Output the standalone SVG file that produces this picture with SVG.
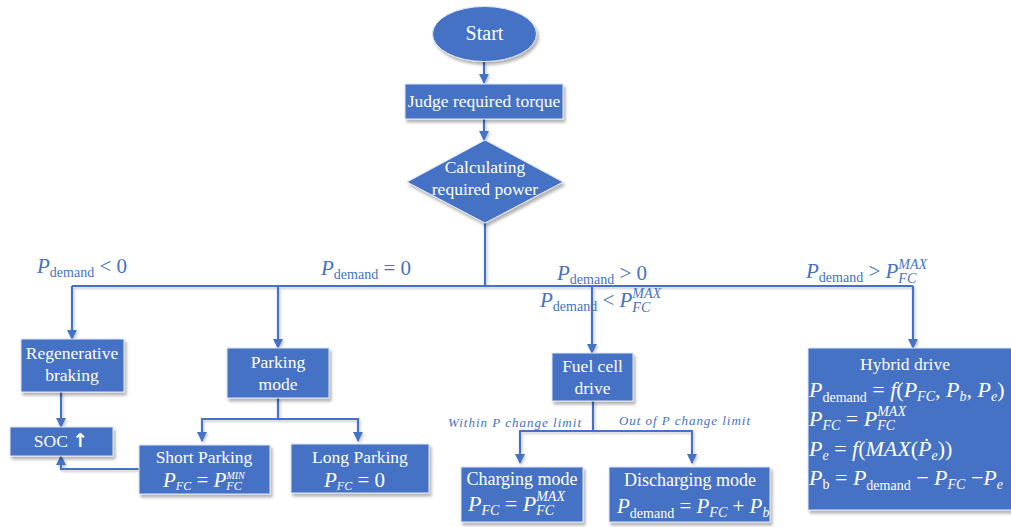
<svg xmlns="http://www.w3.org/2000/svg" width="1011" height="527" viewBox="0 0 1011 527">
<style>
.box{fill:#4472C4;stroke:#dfe7f5;stroke-width:1;filter:url(#sh)}
.t{font-family:"Liberation Serif","Times New Roman",serif;font-size:17.5px;fill:#fff;text-anchor:middle}
.m{font-family:"Liberation Serif","Times New Roman",serif;font-size:22px;fill:#fff}
.lb{font-family:"Liberation Serif","Times New Roman",serif;font-size:21px;fill:#4472C4}
.i{font-style:italic}
.s{font-size:14px}
.ss{font-size:12px}
.sx{font-size:10px}
.cn{fill:none;stroke:#4472C4;stroke-width:2.2}
.ca{fill:none;stroke:#4472C4;stroke-width:2.2;marker-end:url(#ah)}
.cl{font-family:"Liberation Serif","Times New Roman",serif;font-style:italic;font-size:13px;fill:#4472C4}
</style>
<defs>
<filter id="sh" x="-10%" y="-10%" width="130%" height="140%"><feDropShadow dx="2" dy="3" stdDeviation="1.5" flood-color="#000" flood-opacity="0.3"/></filter>
<filter id="lsh" x="-5%" y="-5%" width="110%" height="120%"><feDropShadow dx="1.5" dy="2" stdDeviation="1" flood-color="#000" flood-opacity="0.2"/></filter>
<marker id="ah" viewBox="0 0 10 10" refX="9" refY="5" markerUnits="userSpaceOnUse" markerWidth="10" markerHeight="10" orient="auto"><path d="M0,0 L10,5 L0,10 z" fill="#4472C4"/></marker>
</defs>

<g id="connectors" filter="url(#lsh)">
<line class="ca" x1="484" y1="62" x2="484" y2="83"/>
<line class="ca" x1="484" y1="119" x2="484" y2="140"/>
<polyline class="cn" points="485,223 485,286"/>
<polyline class="cn" points="72,286 913,286"/>
<line class="ca" x1="72" y1="286" x2="72" y2="339"/>
<line class="ca" x1="278" y1="286" x2="278" y2="348"/>
<line class="ca" x1="592" y1="286" x2="592" y2="353"/>
<line class="ca" x1="913" y1="286" x2="913" y2="348"/>
<line class="ca" x1="61" y1="392" x2="61" y2="427"/>
<polyline class="cn" points="278,398 278,419"/>
<polyline class="ca" points="278,419 202,419 202,441"/>
<polyline class="ca" points="278,419 358,419 358,441"/>
<polyline class="ca" points="139,469 61,469 61,456"/>
<polyline class="cn" points="593,401 593,431"/>
<polyline class="ca" points="593,431 520,431 520,463"/>
<polyline class="ca" points="593,431 692,431 692,463"/>
</g>

<g id="conditions">
<text class="lb" x="37" y="273"><tspan class="i">P</tspan><tspan class="s" dy="4">demand</tspan><tspan dy="-4"> &lt;  0</tspan></text>
<text class="lb" x="321" y="275"><tspan class="i">P</tspan><tspan class="s" dy="4">demand</tspan><tspan dy="-4"> =  0</tspan></text>
<text class="lb" x="557" y="280"><tspan class="i">P</tspan><tspan class="s" dy="4">demand</tspan><tspan dy="-4"> &gt; 0</tspan></text>
<text class="lb" x="540" y="307"><tspan class="i">P</tspan><tspan class="s" dy="4">demand</tspan><tspan dy="-4"> &lt; </tspan><tspan class="i">P</tspan><tspan class="i s" dy="5">FC</tspan><tspan class="i s" dx="-17.9" dy="-14">MAX</tspan></text>
<text class="lb" x="806" y="278"><tspan class="i">P</tspan><tspan class="s" dy="4">demand</tspan><tspan dy="-4"> &gt; </tspan><tspan class="i">P</tspan><tspan class="i s" dy="5">FC</tspan><tspan class="i s" dx="-17.9" dy="-14">MAX</tspan></text>
<text class="cl" x="448" y="427" textLength="133" lengthAdjust="spacing">Within P change limit</text>
<text class="cl" x="619" y="425" textLength="131" lengthAdjust="spacing">Out of P change limit</text>
</g>

<g id="start">
<ellipse cx="484.5" cy="34" rx="52" ry="27.5" fill="#4472C4" stroke="#dfe7f5" stroke-width="1" filter="url(#sh)"/>
<text class="t" x="484.5" y="40" style="font-size:20px">Start</text>
</g>

<g id="judge">
<rect class="box" x="405" y="84" width="158" height="35"/>
<text class="t" x="484" y="107">Judge required torque</text>
</g>

<g id="calc">
<polygon class="box" points="485,140 563,182 485,223 407,182"/>
<text class="t" x="485" y="173">Calculating</text>
<text class="t" x="485" y="195">required power</text>
</g>

<g id="regen">
<rect class="box" x="21" y="339" width="103" height="53"/>
<text class="t" x="72" y="359">Regenerative</text>
<text class="t" x="72" y="381">braking</text>
</g>

<g id="soc">
<rect class="box" x="10" y="427" width="103" height="29"/>
<text class="t" x="61" y="447">SOC <tspan font-weight="bold" font-family="DejaVu Sans" font-size="19">↑</tspan></text>
</g>

<g id="parking">
<rect class="box" x="227" y="348" width="102" height="50"/>
<text class="t" x="278" y="368">Parking</text>
<text class="t" x="278" y="390">mode</text>
</g>

<g id="short">
<rect class="box" x="139" y="445" width="131" height="49"/>
<text class="t" x="204" y="463">Short Parking</text>
<text class="m" x="163" y="487" style="font-size:21px"><tspan class="i">P</tspan><tspan class="i ss" dy="3">FC</tspan><tspan dy="-3"> = </tspan><tspan class="i">P</tspan><tspan class="i ss" dy="3">FC</tspan><tspan class="i sx" dx="-15.3" dy="-11">MIN</tspan></text>
</g>

<g id="long">
<rect class="box" x="291" y="444" width="138" height="49"/>
<text class="t" x="360" y="463">Long Parking</text>
<text class="m" x="324" y="487" style="font-size:21px"><tspan class="i">P</tspan><tspan class="i ss" dy="3">FC</tspan><tspan dy="-3"> =  0</tspan></text>
</g>

<g id="fuelcell">
<rect class="box" x="552" y="353" width="81" height="48"/>
<text class="t" x="592.5" y="372">Fuel cell</text>
<text class="t" x="592.5" y="394">drive</text>
</g>

<g id="charging">
<rect class="box" x="461" y="467" width="122" height="55"/>
<text class="t" x="522" y="485" style="font-size:18px">Charging mode</text>
<text class="m" x="468" y="511"><tspan class="i">P</tspan><tspan class="i s" dy="4">FC</tspan><tspan dy="-4"> = </tspan><tspan class="i">P</tspan><tspan class="i s" dy="4">FC</tspan><tspan class="i s" dx="-17.9" dy="-14">MAX</tspan></text>
</g>

<g id="discharging">
<rect class="box" x="609" y="467" width="161" height="55"/>
<text class="t" x="690" y="486" style="font-size:18px">Discharging mode</text>
<text class="m" x="617" y="513" style="font-size:21px"><tspan class="i">P</tspan><tspan class="s" dy="5">demand</tspan><tspan dy="-5"> = </tspan><tspan class="i">P</tspan><tspan class="i s" dy="4">FC</tspan><tspan dy="-4"> + </tspan><tspan class="i">P</tspan><tspan class="i s" dy="4">b</tspan></text>
</g>

<g id="hybrid">
<rect class="box" x="808" y="348" width="210" height="162"/>
<text class="t" x="905" y="370">Hybrid drive</text>
<text class="m" x="809" y="397"><tspan class="i">P</tspan><tspan class="s" dy="5">demand</tspan><tspan dy="-5"> = </tspan><tspan class="i">f</tspan>(<tspan class="i">P</tspan><tspan class="i s" dy="4">FC</tspan><tspan dy="-4">, </tspan><tspan class="i">P</tspan><tspan class="i s" dy="4">b</tspan><tspan dy="-4">, </tspan><tspan class="i">P</tspan><tspan class="i s" dy="4">e</tspan><tspan dy="-4">)</tspan></text>
<text class="m" x="809" y="426"><tspan class="i">P</tspan><tspan class="i s" dy="4">FC</tspan><tspan dy="-4"> = </tspan><tspan class="i">P</tspan><tspan class="i s" dy="4">FC</tspan><tspan class="i s" dx="-17.9" dy="-14">MAX</tspan></text>
<text class="m" x="809" y="456"><tspan class="i">P</tspan><tspan class="i s" dy="4">e</tspan><tspan dy="-4"> = </tspan><tspan class="i">f</tspan>(<tspan class="i">MAX</tspan>(<tspan class="i">Ṗ</tspan><tspan class="i s" dy="4">e</tspan><tspan dy="-4">))</tspan></text>
<text class="m" x="809" y="485"><tspan class="i">P</tspan><tspan class="s" dy="4">b</tspan><tspan dy="-4"> = </tspan><tspan class="i">P</tspan><tspan class="s" dy="5">demand</tspan><tspan dy="-5"> − </tspan><tspan class="i">P</tspan><tspan class="i s" dy="4">FC</tspan><tspan dy="-4"> −</tspan><tspan class="i">P</tspan><tspan class="i s" dy="4">e</tspan></text>
</g>
</svg>
